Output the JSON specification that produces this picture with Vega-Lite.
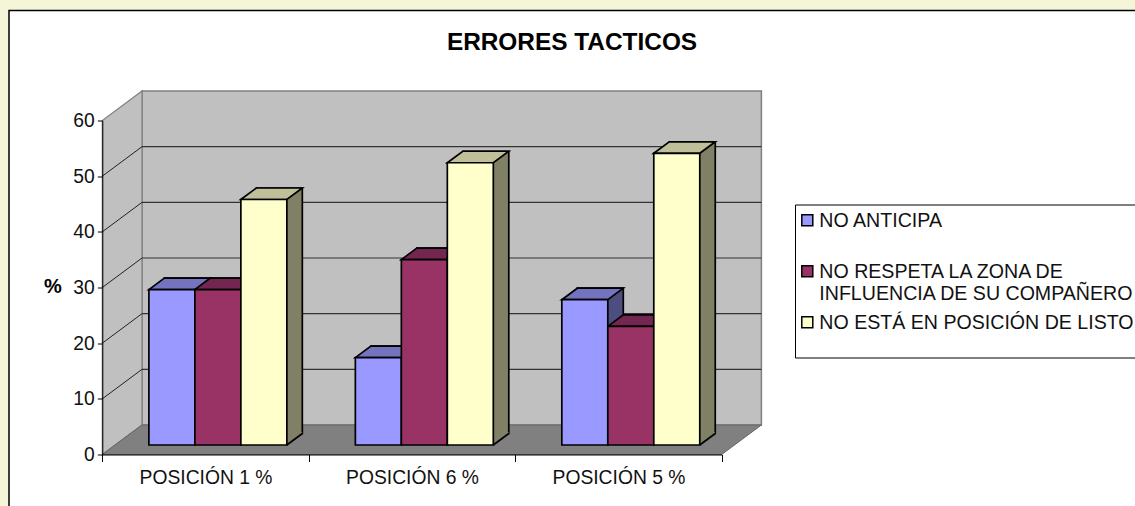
{
"$schema":"https://vega.github.io/schema/vega-lite/v6.json",
"autosize":{"type":"none"},
"padding":{"left":9,"top":10.5,"right":0,"bottom":0},
"background":"#F5F5D8",
"width":1131,
"height":500,
"view":{"fill":"white","stroke":"black","strokeWidth":1.5},
"config":{"font":"Liberation Sans","text":{"font":"Liberation Sans"}},
"title":{"text":"ERRORES TACTICOS","anchor":"start","frame":"group","align":"center","dx":563,"offset":-57,"baseline":"middle","fontSize":24.4,"fontWeight":"bold","color":"black","font":"Liberation Sans"},
"datasets":{
"bars":[
{"posicion":"POSICIÓN 1 %","serie":"NO ANTICIPA","valor":27.9},
{"posicion":"POSICIÓN 1 %","serie":"NO RESPETA LA ZONA DE INFLUENCIA DE SU COMPAÑERO","valor":27.9},
{"posicion":"POSICIÓN 1 %","serie":"NO ESTÁ EN POSICIÓN DE LISTO","valor":44.1},
{"posicion":"POSICIÓN 6 %","serie":"NO ANTICIPA","valor":15.7},
{"posicion":"POSICIÓN 6 %","serie":"NO RESPETA LA ZONA DE INFLUENCIA DE SU COMPAÑERO","valor":33.3},
{"posicion":"POSICIÓN 6 %","serie":"NO ESTÁ EN POSICIÓN DE LISTO","valor":50.7},
{"posicion":"POSICIÓN 5 %","serie":"NO ANTICIPA","valor":26.1},
{"posicion":"POSICIÓN 5 %","serie":"NO RESPETA LA ZONA DE INFLUENCIA DE SU COMPAÑERO","valor":21.3},
{"posicion":"POSICIÓN 5 %","serie":"NO ESTÁ EN POSICIÓN DE LISTO","valor":52.4}
],
"ticks":[{"tick":10},{"tick":20},{"tick":30},{"tick":40},{"tick":50}],
"one":[{"id":1}]
},
"resolve":{"scale":{"x":"independent"}},
"layer":[
{
"layer":[
{"data":{"name":"one"},
 "mark":{"type":"rect","fill":"#C0C0C0","stroke":"#808080","strokeWidth":1.5,"xOffset":39.7,"x2Offset":39.7,"yOffset":-29.5,"y2Offset":-29.5},
 "encoding":{"x":{"datum":0,"type":"quantitative","axis":null,"scale":{"domain":[0,3],"range":[93.3,712.7]}},"x2":{"datum":3},
 "y":{"datum":0,"type":"quantitative","scale":{"domain":[0,60],"range":[444,110]},
 "axis":{"title":"%","orient":"left","offset":-93.3,"values":[0,10,20,30,40,50,60],"grid":false,"tickSize":5,"tickColor":"black","domainColor":"black","labelFontSize":19.3,"labelFont":"Liberation Sans","labelColor":"#111111","labelPadding":3,"titleFontSize":20,"titleFont":"Liberation Sans","titleFontWeight":"bold","titleColor":"black","titleAngle":0,"titleX":-50,"titleY":286,"zindex":1}},"y2":{"datum":60}}},
{"data":{"name":"one"},
 "mark":{"type":"point","filled":true,"opacity":1,"size":4,"fill":"#C0C0C0","stroke":"#808080","strokeWidth":1.2,"shape":"M0 0 L39.7 -29.5 L39.7 -363.5 L0 -334 Z"},
 "encoding":{"x":{"datum":0,"type":"quantitative","axis":null},"y":{"datum":0,"type":"quantitative"}}},
{"data":{"name":"one"},
 "mark":{"type":"point","filled":true,"opacity":1,"size":4,"fill":"#808080","stroke":"#666666","strokeWidth":1,"shape":"M0 0 L39.7 -29.5 L659.1 -29.5 L619.4 0 Z"},
 "encoding":{"x":{"datum":0,"type":"quantitative","axis":null},"y":{"datum":0,"type":"quantitative"}}},
{"data":{"name":"ticks"},
 "mark":{"type":"rule","stroke":"#333333","strokeWidth":1.2,"xOffset":39.7,"x2Offset":39.7,"yOffset":-29.5},
 "encoding":{"x":{"datum":0,"type":"quantitative","axis":null},"x2":{"datum":3},"y":{"field":"tick","type":"quantitative"}}},
{"data":{"name":"ticks"},
 "mark":{"type":"point","filled":false,"opacity":1,"size":4,"stroke":"#222222","strokeWidth":1,"shape":"M0 0 L39.7 -29.5"},
 "encoding":{"x":{"datum":0,"type":"quantitative","axis":null},"y":{"field":"tick","type":"quantitative"}}}
]},
{
"data":{"name":"bars"},
"resolve":{"scale":{"fill":"independent","xOffset":"independent"}},
"encoding":{
 "x":{"field":"posicion","type":"nominal","sort":null,"scale":{"range":[93.3,712.7],"paddingInner":0,"paddingOuter":0},
  "axis":{"title":null,"orient":"bottom","offset":-56,"tickBand":"extent","labelAngle":0,"labelFontSize":19.3,"labelFont":"Liberation Sans","labelColor":"#111111","labelPadding":7,"tickSize":7,"tickColor":"black","domainColor":"black","zindex":1}},
 "xOffset":{"field":"serie","type":"nominal","sort":null,"scale":{"type":"band","domain":["NO ANTICIPA","NO RESPETA LA ZONA DE INFLUENCIA DE SU COMPAÑERO","NO ESTÁ EN POSICIÓN DE LISTO"],"paddingInner":0,"paddingOuter":0.745,"align":0.68}}
},
"layer":[
{"mark":{"type":"rect","stroke":"black","strokeWidth":1.7,"yOffset":-21,"y2Offset":-21},
 "encoding":{
 "xOffset":{"field":"serie","type":"nominal","sort":null,"scale":{"type":"band","domain":["NO ANTICIPA","NO RESPETA LA ZONA DE INFLUENCIA DE SU COMPAÑERO","NO ESTÁ EN POSICIÓN DE LISTO"],"paddingInner":0,"paddingOuter":0.745,"align":0.906}},
 "y":{"field":"valor","type":"quantitative"},"y2":{"datum":0},
 "fill":{"field":"serie","type":"nominal","sort":null,"legend":null,"scale":{"domain":["NO ANTICIPA","NO RESPETA LA ZONA DE INFLUENCIA DE SU COMPAÑERO","NO ESTÁ EN POSICIÓN DE LISTO"],"range":["#4D4D80","#4D1A33","#808066"]}}}},
{"mark":{"type":"point","filled":true,"opacity":1,"size":4,"strokeOpacity":0,"yOffset":-9.5,"shape":"M23 0 L38.5 -11.5 L38 -13 L23 -13 Z"},
 "encoding":{"y":{"datum":0,"type":"quantitative"},
 "fill":{"field":"serie","type":"nominal","sort":null,"legend":null,"scale":{"domain":["NO ANTICIPA","NO RESPETA LA ZONA DE INFLUENCIA DE SU COMPAÑERO","NO ESTÁ EN POSICIÓN DE LISTO"],"range":["#4D4D80","#4D1A33","#808066"]}}}},
{"mark":{"type":"point","filled":false,"opacity":1,"size":4,"stroke":"black","strokeWidth":1.7,"yOffset":-9.5,"shape":"M23 0 L38.5 -11.5"},
 "encoding":{"y":{"datum":0,"type":"quantitative"}}},
{"mark":{"type":"point","filled":true,"opacity":1,"size":4,"stroke":"black","strokeWidth":1.7,"yOffset":-9.5,"shape":"M-23 0 L-7.5 -11.5 L38.5 -11.5 L23 0 Z"},
 "encoding":{"y":{"field":"valor","type":"quantitative"},
 "fill":{"field":"serie","type":"nominal","sort":null,"legend":null,"scale":{"domain":["NO ANTICIPA","NO RESPETA LA ZONA DE INFLUENCIA DE SU COMPAÑERO","NO ESTÁ EN POSICIÓN DE LISTO"],"range":["#7373BF","#732650","#BFBF99"]}}}},
{"mark":{"type":"rect","stroke":"black","strokeWidth":1.7,"yOffset":-9.5,"y2Offset":-9.5},
 "encoding":{"y":{"field":"valor","type":"quantitative"},"y2":{"datum":0},
 "fill":{"field":"serie","type":"nominal","sort":null,"scale":{"domain":["NO ANTICIPA","NO RESPETA LA ZONA DE INFLUENCIA DE SU COMPAÑERO","NO ESTÁ EN POSICIÓN DE LISTO"],"range":["#9999FF","#993366","#FFFFCC"]},
 "legend":{"title":" ","titleFontSize":1,"titlePadding":3,"orient":"none","legendX":786,"legendY":194,"fillColor":"white","strokeColor":"black","padding":2,"symbolType":"square","symbolSize":121,"symbolStrokeColor":"black","symbolStrokeWidth":1.5,"symbolOffset":0.5,"labelOffset":2.2,"labelFontSize":19.6,"labelFont":"Liberation Sans","labelColor":"#111111","labelLimit":500,"rowPadding":8,"labelBaseline":"alphabetic",
 "labelExpr":"datum.label=='NO RESPETA LA ZONA DE INFLUENCIA DE SU COMPAÑERO' ? ['NO RESPETA LA ZONA DE','INFLUENCIA DE SU COMPAÑERO\u00a0\u00a0\u00a0'] : [datum.label,' ']",
 "encoding":{"labels":{"lineHeight":{"value":22},"dy":{"value":7}}}}}}}
]}
]}
